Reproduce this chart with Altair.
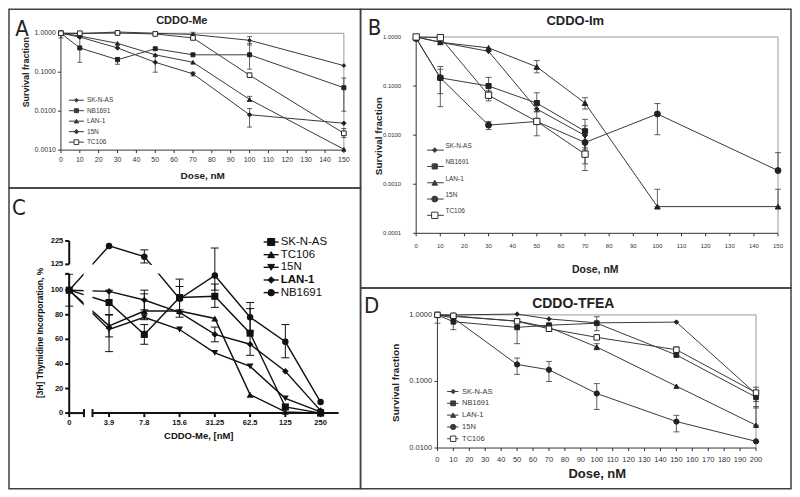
import altair as alt
import pandas as pd

FONT = "Liberation Sans, Arial, sans-serif"
LETTER_FONT = "Liberation Sans Narrow, DejaVu Sans Condensed, Liberation Sans, sans-serif"
DARK = "#222222"
LINE = "#3a3a3a"
FRAME = "#9a9a9a"

SERIES = ["SK-N-AS", "NB1691", "LAN-1", "15N", "TC106"]

# ---------------- Panel A : CDDO-Me (clonogenic) ----------------
A_DOSE = [0, 10, 30, 50, 70, 100, 150]
A_SKNAS = [1.0, 0.97, 1.08, 1.0, 0.93, 0.66, 0.148]
A_NB1691 = [1.0, 0.42, 0.21, 0.40, 0.28, 0.28, 0.040]
A_LAN1 = [1.0, 0.85, 0.55, 0.28, 0.18, 0.020, 0.00105]
A_15N = [1.0, 0.80, 0.42, 0.18, 0.091, 0.0081, 0.0049]
A_TC106 = [1.0, 1.0, 1.02, 0.96, 0.76, 0.084, 0.0027]
A_YTICKS = [1, 0.1, 0.01, 0.001]
A_ERR = [
    ("NB1691", 0, 0.76, 1.17),
    ("NB1691", 10, 0.18, 0.80),
    ("NB1691", 30, 0.16, 0.24),
    ("15N", 50, 0.10, 0.28),
    ("SK-N-AS", 70, 0.80, 1.06),
    ("15N", 70, 0.080, 0.10),
    ("SK-N-AS", 100, 0.50, 0.82),
    ("NB1691", 100, 0.12, 0.55),
    ("LAN-1", 100, 0.018, 0.024),
    ("15N", 100, 0.0039, 0.0117),
    ("NB1691", 150, 0.010, 0.071),
    ("TC106", 150, 0.0021, 0.0036),
]

# ---------------- Panel B : CDDO-Im ----------------
B_DOSE = [0, 10, 30, 50, 70, 100, 150]
B_SKNAS = [1.0, 0.78, 0.51, 0.034, 0.0098, None, None]
B_NB1691 = [0.95, 0.147, 0.10, 0.045, 0.012, None, None]
B_LAN1 = [1.0, 0.78, 0.60, 0.246, 0.045, 0.00035, 0.00035]
B_15N = [0.93, 0.147, 0.016, 0.019, 0.0071, 0.027, 0.0019]
B_TC106 = [1.0, 0.97, 0.065, 0.019, 0.0041, None, None]
B_YTICKS = [1, 0.1, 0.01, 0.001, 0.0001]
B_ERR = [
    ("NB1691", 10, 0.038, 0.22),
    ("15N", 10, 0.07, 0.25),
    ("NB1691", 30, 0.075, 0.15),
    ("TC106", 30, 0.05, 0.08),
    ("15N", 30, 0.013, 0.019),
    ("LAN-1", 50, 0.186, 0.33),
    ("NB1691", 50, 0.03, 0.073),
    ("15N", 50, 0.0097, 0.03),
    ("LAN-1", 70, 0.034, 0.058),
    ("NB1691", 70, 0.0055, 0.021),
    ("SK-N-AS", 70, 0.005, 0.0155),
    ("TC106", 70, 0.0019, 0.0075),
    ("15N", 70, 0.0026, 0.010),
    ("15N", 100, 0.0102, 0.044),
    ("LAN-1", 100, 0.00035, 0.00079),
    ("15N", 150, 0.0019, 0.0044),
    ("LAN-1", 150, 0.00035, 0.00079),
]

# ---------------- Panel D : CDDO-TFEA ----------------
D_DOSE = [0, 10, 50, 70, 100, 150, 200]
D_SKNAS = [1.0, 1.0, 1.03, 0.87, 0.76, 0.78, 0.065]
D_NB1691 = [1.0, 0.79, 0.65, 0.70, 0.75, 0.25, 0.058]
D_LAN1 = [1.0, 0.95, 0.81, 0.65, 0.33, 0.085, 0.022]
D_15N = [1.0, 0.90, 0.18, 0.15, 0.066, 0.025, 0.0126]
D_TC106 = [1.0, 0.97, 0.80, 0.62, 0.46, 0.30, 0.068]
D_YTICKS = [1, 0.1, 0.01]
D_ERR = [
    ("NB1691", 0, 0.75, 1.10),
    ("NB1691", 10, 0.60, 0.90),
    ("NB1691", 50, 0.37, 0.87),
    ("15N", 50, 0.128, 0.225),
    ("15N", 70, 0.10, 0.20),
    ("TC106", 70, 0.57, 0.67),
    ("NB1691", 100, 0.58, 0.94),
    ("LAN-1", 100, 0.30, 0.37),
    ("15N", 100, 0.038, 0.093),
    ("TC106", 150, 0.24, 0.33),
    ("15N", 150, 0.0175, 0.031),
    ("NB1691", 200, 0.040, 0.072),
    ("TC106", 200, 0.050, 0.082),
    ("LAN-1", 200, 0.022, 0.042),
]

# ---------------- Panel C : [3H] thymidine, CDDO-Me ----------------
C_DOSE = ["0", "3.9", "7.8", "15.6", "31.25", "62.5", "125", "250"]
C_SERIES = ["SK-N-AS", "TC106", "15N", "LAN-1", "NB1691"]
C_SKNAS = [100, 90, 64, 94, 95, 65, 5, 0]
C_TC106 = [100, 71, 83, 83, 77, 15, 1, 0]
C_15N = [100, 68, 78, 68, 49, 38, 12, 1]
C_LAN1 = [100, 99, 92, 82, 64, 56, 34, 2]
C_NB1691 = [100, 204, 158, 93, 112, 78, 58, 9]
C_YTICKS = [0, 20, 40, 60, 80, 100, 125, 225]
C_ERR = [
    ("NB1691", "0", 87, 113),
    ("SK-N-AS", "3.9", 80, 100),
    ("15N", "3.9", 50, 80),
    ("TC106", "3.9", 62, 80),
    ("NB1691", "7.8", 131, 187),
    ("LAN-1", "7.8", 84, 100),
    ("SK-N-AS", "7.8", 56, 72),
    ("TC106", "7.8", 76, 97),
    ("NB1691", "15.6", 78, 109),
    ("SK-N-AS", "15.6", 84, 103),
    ("NB1691", "31.25", 100, 195),
    ("SK-N-AS", "31.25", 86, 105),
    ("LAN-1", "31.25", 58, 70),
    ("NB1691", "62.5", 66, 90),
    ("SK-N-AS", "62.5", 47, 85),
    ("NB1691", "125", 45, 72),
]

ONE = pd.DataFrame({"k": [0]})
W, H = 783, 480


def long_df(doses, table):
    rows = []
    for name, vals in table:
        for d, v in zip(doses, vals):
            if v is not None:
                rows.append({"series": name, "dose": d, "value": v})
    return pd.DataFrame(rows)


def text_mark(txt, x, y, size, weight="normal", angle=0, font=FONT, color=DARK):
    return alt.Chart(ONE).mark_text(
        text=txt, font=font, fontSize=size, fontWeight=weight, angle=angle,
        color=color, align="center", baseline="middle"
    ).encode(x=alt.value(x), y=alt.value(y))


def box(x1, x2, y1, y2):
    return alt.Chart(ONE).mark_rect(
        fill="transparent", stroke="#404040", strokeWidth=1.5
    ).encode(x=alt.value(x1), x2=alt.value(x2), y=alt.value(y1), y2=alt.value(y2))


def fill_enc(color, open_name="TC106"):
    if open_name is None:
        return alt.value(color)
    return alt.condition(alt.datum.series == open_name, alt.value("white"), alt.value(color))


def legend_layer(names, shape, size, color, y0, y1, line_x, mark_x, text_x,
                 font_size, text_dy, line_w, bold=(), open_name="TC106"):
    ldf = pd.DataFrame({"series": names, "rank": list(range(len(names)))})
    yenc = alt.Y("rank:Q", scale=alt.Scale(domain=[0, len(names) - 1], range=[y0, y1]), axis=None)
    rule = alt.Chart(ldf).mark_rule(color=color, strokeWidth=line_w).encode(
        x=alt.value(line_x[0]), x2=alt.value(line_x[1]), y=yenc)
    pts = alt.Chart(ldf).mark_point(opacity=1, stroke=color, strokeWidth=1).encode(
        x=alt.value(mark_x), y=yenc, shape=shape, size=size, fill=fill_enc(color, open_name))
    layers = [rule, pts]
    normal = [n for n in names if n not in bold]
    layers.append(alt.Chart(ldf).transform_filter(
        alt.FieldOneOfPredicate(field="series", oneOf=normal)).mark_text(
        align="left", baseline="middle", dy=text_dy, font=FONT, fontSize=font_size, color=color
    ).encode(x=alt.value(text_x), y=yenc, text="series:N"))
    if bold:
        layers.append(alt.Chart(ldf).transform_filter(
            alt.FieldOneOfPredicate(field="series", oneOf=list(bold))).mark_text(
            align="left", baseline="middle", dy=text_dy, font=FONT, fontSize=font_size,
            fontWeight="bold", color=color
        ).encode(x=alt.value(text_x), y=yenc, text="series:N"))
    return alt.layer(*layers)


def excel_panel(doses, table, err, xmax, ymin, yticks, xr, yr, shapes, sizes, lab_fs,
                xlab_dy, ylab_dx, cap, legend_kw):
    df = long_df(doses, table)
    edf = pd.DataFrame(err, columns=["series", "dose", "lo", "hi"])
    xs = alt.Scale(domain=[0, xmax], range=xr, nice=False, zero=False)
    ys = alt.Scale(type="log", domain=[ymin, 1], range=yr, nice=False)

    def X(f):
        return alt.X(f, scale=xs, axis=None)

    def Y(f):
        return alt.Y(f, scale=ys, axis=None)

    def XD(v):
        return alt.XDatum(v, scale=xs, axis=None)

    def YD(v):
        return alt.YDatum(v, scale=ys, axis=None)

    shape = alt.Shape("series:N", scale=alt.Scale(domain=SERIES, range=shapes), legend=None)
    size = alt.Size("series:N", scale=alt.Scale(domain=SERIES, range=sizes), legend=None)

    xt = pd.DataFrame({"v": list(range(0, xmax + 1, 10))})
    xt["lab"] = xt["v"].astype(str)
    yt = pd.DataFrame({"v": yticks, "lab": ["%.4f" % v for v in yticks]})

    frame_top = alt.Chart(ONE).mark_rule(color=FRAME, strokeWidth=1).encode(
        x=XD(0), x2=alt.datum(xmax), y=YD(1))
    frame_right = alt.Chart(ONE).mark_rule(color=FRAME, strokeWidth=1).encode(
        x=XD(xmax), y=YD(ymin), y2=alt.datum(1))
    x_dom = alt.Chart(ONE).mark_rule(color="#333", strokeWidth=1).encode(
        x=XD(0), x2=alt.datum(xmax), y=YD(ymin))
    y_dom = alt.Chart(ONE).mark_rule(color="#333", strokeWidth=1).encode(
        x=XD(0), y=YD(ymin), y2=alt.datum(1))
    x_ticks = alt.Chart(xt).mark_rule(color="#333", strokeWidth=1, y2Offset=3).encode(
        x=X("v:Q"), y=YD(ymin), y2=alt.datum(ymin))
    y_ticks = alt.Chart(yt).mark_rule(color="#333", strokeWidth=1, xOffset=-3).encode(
        x=XD(0), x2=alt.datum(0), y=Y("v:Q"))
    x_labs = alt.Chart(xt).mark_text(font=FONT, fontSize=lab_fs, color="#333", dy=xlab_dy,
                                     align="center", baseline="middle").encode(
        x=X("v:Q"), y=YD(ymin), text="lab:N")
    y_labs = alt.Chart(yt).mark_text(font=FONT, fontSize=lab_fs, color="#333", dx=ylab_dx,
                                     align="right", baseline="middle").encode(
        x=XD(0), y=Y("v:Q"), text="lab:N")

    lines = alt.Chart(df).mark_line(color=LINE, strokeWidth=1).encode(
        x=X("dose:Q"), y=Y("value:Q"), detail="series:N", order="dose:Q")
    ebar = alt.Chart(edf).mark_rule(color=LINE, strokeWidth=0.8).encode(
        x=X("dose:Q"), y=Y("lo:Q"), y2="hi:Q")
    cap_lo = alt.Chart(edf).mark_rule(color=LINE, strokeWidth=0.8, xOffset=-cap, x2Offset=cap).encode(
        x=X("dose:Q"), x2="dose:Q", y=Y("lo:Q"))
    cap_hi = alt.Chart(edf).mark_rule(color=LINE, strokeWidth=0.8, xOffset=-cap, x2Offset=cap).encode(
        x=X("dose:Q"), x2="dose:Q", y=Y("hi:Q"))
    pts = alt.Chart(df).mark_point(opacity=1, stroke=DARK, strokeWidth=1).encode(
        x=X("dose:Q"), y=Y("value:Q"), shape=shape, size=size, fill=fill_enc(DARK))
    data_layer = alt.layer(frame_top, frame_right, x_dom, y_dom, x_ticks, y_ticks, x_labs, y_labs,
                           ebar, cap_lo, cap_hi, lines, pts)
    leg = legend_layer(SERIES, shape, size, LINE, **legend_kw)
    return alt.layer(data_layer, leg).resolve_scale(y="independent")


panel_a = excel_panel(
    A_DOSE,
    [("SK-N-AS", A_SKNAS), ("NB1691", A_NB1691), ("LAN-1", A_LAN1), ("15N", A_15N), ("TC106", A_TC106)],
    A_ERR, 150, 0.001, A_YTICKS, [52, 335.3], [141, 24],
    ["diamond", "square", "triangle-up", "diamond", "square"], [14, 22, 22, 22, 22],
    7, 10, -5, 2.5,
    dict(y0=91, y1=133, line_x=(60, 75), mark_x=67.5, text_x=78, font_size=6.5, text_dy=0, line_w=1),
)

panel_b = excel_panel(
    B_DOSE,
    [("SK-N-AS", B_SKNAS), ("NB1691", B_NB1691), ("LAN-1", B_LAN1), ("15N", B_15N), ("TC106", B_TC106)],
    B_ERR, 150, 0.0001, B_YTICKS, [407.7, 770], [224.3, 27.7],
    ["diamond", "square", "triangle-up", "circle", "square"], [22, 40, 36, 30, 40],
    6, 12.7, -15, 3,
    dict(y0=141, y1=206.3, line_x=(418.7, 435.3), mark_x=426.3, text_x=437, font_size=6.5,
         text_dy=-4, line_w=1),
)

panel_d = excel_panel(
    D_DOSE,
    [("SK-N-AS", D_SKNAS), ("NB1691", D_NB1691), ("LAN-1", D_LAN1), ("15N", D_15N), ("TC106", D_TC106)],
    D_ERR, 200, 0.01, D_YTICKS, [429, 748], [439.3, 306],
    ["diamond", "square", "triangle-up", "circle", "square"], [20, 30, 30, 26, 30],
    7.5, 11.7, -5.3, 3,
    dict(y0=382.7, y1=430, line_x=(438.7, 450), mark_x=444.7, text_x=453.7, font_size=7.5,
         text_dy=0, line_w=1),
)


# ---------------- Panel C build ----------------
def brk(v):
    return v if v <= 121 else 121 + max(v - 125, 0) * 0.19


c_pos = {lab: (-0.13 if i == 0 else float(i)) for i, lab in enumerate(C_DOSE)}
c_rows = []
for name, vals in [("SK-N-AS", C_SKNAS), ("TC106", C_TC106), ("15N", C_15N),
                   ("LAN-1", C_LAN1), ("NB1691", C_NB1691)]:
    for lab, v in zip(C_DOSE, vals):
        c_rows.append({"series": name, "pos": c_pos[lab], "value": v, "t": brk(v)})
cdf = pd.DataFrame(c_rows)
cedf = pd.DataFrame([{"series": s, "pos": c_pos[lab], "tlo": brk(lo), "thi": brk(hi)}
                     for s, lab, lo, hi in C_ERR])
cxt = pd.DataFrame({"v": [c_pos[lab] for lab in C_DOSE], "lab": C_DOSE})
cyt = pd.DataFrame({"v": [brk(v) for v in C_YTICKS], "lab": [str(v) for v in C_YTICKS]})

C_XMIN, C_XMAX, C_TOP = -0.13, 7.51, brk(225)
cxs = alt.Scale(domain=[C_XMIN, C_XMAX], range=[60.3, 330], nice=False, zero=False)
cys = alt.Scale(domain=[0, C_TOP], range=[404.3, 232], nice=False, zero=False)
CK = "#111111"


def CX(f):
    return alt.X(f, scale=cxs, axis=None)


def CY(f):
    return alt.Y(f, scale=cys, axis=None)


def CXD(v):
    return alt.XDatum(v, scale=cxs, axis=None)


def CYD(v):
    return alt.YDatum(v, scale=cys, axis=None)


c_shape = alt.Shape("series:N", scale=alt.Scale(
    domain=C_SERIES, range=["square", "triangle-up", "triangle-down", "diamond", "circle"]), legend=None)
c_size = alt.Size("series:N", scale=alt.Scale(domain=C_SERIES, range=[50, 42, 42, 28, 55]), legend=None)

c_lines = alt.Chart(cdf).mark_line(color=CK, strokeWidth=1.4).encode(
    x=CX("pos:Q"), y=CY("t:Q"), detail="series:N", order="pos:Q")
c_ebar = alt.Chart(cedf).mark_rule(color=CK, strokeWidth=1).encode(
    x=CX("pos:Q"), y=CY("tlo:Q"), y2="thi:Q")
c_cap_lo = alt.Chart(cedf).mark_rule(color=CK, strokeWidth=1, xOffset=-4, x2Offset=4).encode(
    x=CX("pos:Q"), x2="pos:Q", y=CY("tlo:Q"))
c_cap_hi = alt.Chart(cedf).mark_rule(color=CK, strokeWidth=1, xOffset=-4, x2Offset=4).encode(
    x=CX("pos:Q"), x2="pos:Q", y=CY("thi:Q"))
c_pts = alt.Chart(cdf).mark_point(opacity=1, filled=True, color=CK).encode(
    x=CX("pos:Q"), y=CY("t:Q"), shape=c_shape, size=c_size)
# axis-break gaps
c_vbreak = alt.Chart(ONE).mark_rect(color="white").encode(
    x=CXD(0.28), x2=alt.datum(0.53), y=CYD(-3), y2=alt.datum(C_TOP))
c_hbreak = alt.Chart(ONE).mark_rect(color="white").encode(
    x=CXD(-0.3), x2=alt.datum(3.4), y=CYD(113.6), y2=alt.datum(120.4))
# broken axes drawn as segments
c_xdom1 = alt.Chart(ONE).mark_rule(color=CK, strokeWidth=2).encode(
    x=CXD(C_XMIN), x2=alt.datum(0.29), y=CYD(0))
c_xdom2 = alt.Chart(ONE).mark_rule(color=CK, strokeWidth=2).encode(
    x=CXD(0.53), x2=alt.datum(C_XMAX), y=CYD(0))
c_ydom1 = alt.Chart(ONE).mark_rule(color=CK, strokeWidth=2).encode(
    x=CXD(C_XMIN), y=CYD(0), y2=alt.datum(113.3))
c_ydom2 = alt.Chart(ONE).mark_rule(color=CK, strokeWidth=2).encode(
    x=CXD(C_XMIN), y=CYD(121), y2=alt.datum(C_TOP))
c_xbreak_caps = alt.Chart(pd.DataFrame({"v": [0.29, 0.53]})).mark_rule(
    color=CK, strokeWidth=2, yOffset=-4, y2Offset=4).encode(x=CX("v:Q"), y=CYD(0), y2=alt.datum(0))
c_ybreak_cap = alt.Chart(ONE).mark_rule(color=CK, strokeWidth=2, xOffset=-4).encode(
    x=CXD(C_XMIN), x2=alt.datum(C_XMIN), y=CYD(113.3))
c_xticks = alt.Chart(cxt).mark_rule(color=CK, strokeWidth=2, y2Offset=4).encode(
    x=CX("v:Q"), y=CYD(0), y2=alt.datum(0))
c_yticks = alt.Chart(cyt).mark_rule(color=CK, strokeWidth=2, xOffset=-4).encode(
    x=CXD(C_XMIN), x2=alt.datum(C_XMIN), y=CY("v:Q"))
c_xlabs = alt.Chart(cxt).mark_text(font=FONT, fontSize=7.5, fontWeight="bold", color=CK, dy=10.4,
                                   align="center", baseline="middle").encode(
    x=CX("v:Q"), y=CYD(0), text="lab:N")
c_ylabs = alt.Chart(cyt).mark_text(font=FONT, fontSize=7.5, fontWeight="bold", color=CK, dx=-6,
                                   align="right", baseline="middle").encode(
    x=CXD(C_XMIN), y=CY("v:Q"), text="lab:N")

c_data = alt.layer(c_ebar, c_cap_lo, c_cap_hi, c_lines, c_pts, c_vbreak, c_hbreak,
                   c_xdom1, c_xdom2, c_ydom1, c_ydom2, c_xbreak_caps, c_ybreak_cap,
                   c_xticks, c_yticks, c_xlabs, c_ylabs)
c_leg = legend_layer(C_SERIES, c_shape, c_size, CK, y0=233, y1=283.7, line_x=(255, 270),
                     mark_x=262.5, text_x=272, font_size=11.5, text_dy=0, line_w=1.4,
                     bold=("LAN-1",), open_name=None)
panel_c = alt.layer(c_data, c_leg).resolve_scale(y="independent")

# ---------------- frame boxes and texts ----------------
deco = [
    box(0, 352, 0, 179), box(352, W, 0, 279), box(0, 352, 179, H), box(352, W, 279, H),
    text_mark("A", 13, 19.5, 22, font=LETTER_FONT),
    text_mark("CDDO-Me", 173, 12, 11, weight="bold"),
    text_mark("Survival fraction", 17, 63, 9, weight="bold", angle=270),
    text_mark("Dose, nM", 194, 167, 10, weight="bold"),
    text_mark("B", 366, 19, 22, font=LETTER_FONT),
    text_mark("CDDO-Im", 567, 12, 13, weight="bold"),
    text_mark("Survival fraction", 370, 127, 10, weight="bold", angle=270),
    text_mark("Dose, nM", 587, 261, 10.5, weight="bold"),
    text_mark("D", 363, 297, 22, font=LETTER_FONT),
    text_mark("CDDO-TFEA", 565, 295, 14, weight="bold"),
    text_mark("Survival fraction", 387, 374, 10, weight="bold", angle=270),
    text_mark("Dose, nM", 589, 465, 13, weight="bold"),
    text_mark("C", 10, 199, 22, font=LETTER_FONT),
    text_mark("[3H] Thymidine Incorporation, %", 31, 324, 8.5, weight="bold", angle=270, color=CK),
    text_mark("CDDO-Me, [nM]", 190, 427, 9.5, weight="bold", color=CK),
]

chart = alt.layer(panel_a, panel_b, panel_c, panel_d, *deco).resolve_scale(
    x="independent", y="independent", shape="independent", size="independent"
).properties(
    width=W, height=H, padding=0, background="white",
    view=alt.ViewBackground(stroke="transparent"),
)

chart.save("out.html", embed_options={"renderer": "svg", "actions": False})
